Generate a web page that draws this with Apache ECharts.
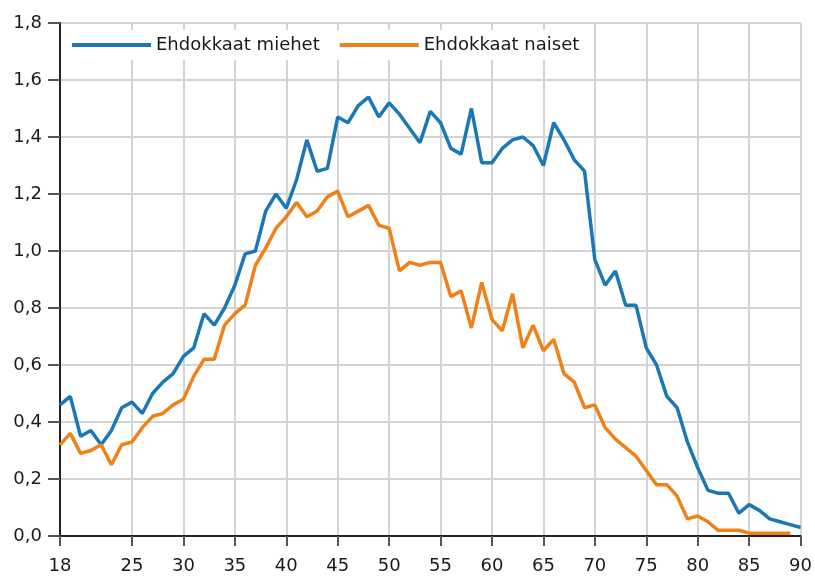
<!DOCTYPE html>
<html>
<head>
<meta charset="utf-8">
<script src="https://cdn.jsdelivr.net/npm/echarts@6/dist/echarts.min.js"></script>
<style>html,body{margin:0;padding:0;background:#fff;}#c{width:815px;height:577px;}</style>
</head>
<body>
<div id="c"></div>
<script>
const ages = [18,19,20,21,22,23,24,25,26,27,28,29,30,31,32,33,34,35,36,37,38,39,40,41,42,43,44,45,46,47,48,49,50,51,52,53,54,55,56,57,58,59,60,61,62,63,64,65,66,67,68,69,70,71,72,73,74,75,76,77,78,79,80,81,82,83,84,85,86,87,88,89,90];
const men = [0.46,0.49,0.35,0.37,0.32,0.37,0.45,0.47,0.43,0.50,0.54,0.57,0.63,0.66,0.78,0.74,0.80,0.88,0.99,1.00,1.14,1.20,1.15,1.25,1.39,1.28,1.29,1.47,1.45,1.51,1.54,1.47,1.52,1.48,1.43,1.38,1.49,1.45,1.36,1.34,1.50,1.31,1.31,1.36,1.39,1.40,1.37,1.30,1.45,1.39,1.32,1.28,0.97,0.88,0.93,0.81,0.81,0.66,0.60,0.49,0.45,0.33,0.24,0.16,0.15,0.15,0.08,0.11,0.09,0.06,0.05,0.04,0.03];
const women = [0.32,0.36,0.29,0.30,0.32,0.25,0.32,0.33,0.38,0.42,0.43,0.46,0.48,0.56,0.62,0.62,0.74,0.78,0.81,0.95,1.01,1.08,1.12,1.17,1.12,1.14,1.19,1.21,1.12,1.14,1.16,1.09,1.08,0.93,0.96,0.95,0.96,0.96,0.84,0.86,0.73,0.89,0.76,0.72,0.85,0.66,0.74,0.65,0.69,0.57,0.54,0.45,0.46,0.38,0.34,0.31,0.28,0.23,0.18,0.18,0.14,0.06,0.07,0.05,0.02,0.02,0.02,0.01,0.01,0.01,0.01,0.01];
const xTicks = [18,25,30,35,40,45,50,55,60,65,70,75,80,85,90];
const seriesNames = ['Ehdokkaat miehet','Ehdokkaat naiset'];
const colors = ['#1b78b4','#ef8119'];

const font = 'DejaVu Sans';
const chart = echarts.init(document.getElementById('c'), null, {renderer:'canvas'});
chart.setOption({
  animation:false,
  backgroundColor:'#fff',
  grid:{left:60,right:12,top:23,bottom:41,containLabel:false},
  legend:{
    left:67, top:30, padding:[6,10,6,5], itemGap:20, itemWidth:79, itemHeight:4,
    icon:'rect',
    backgroundColor:'#fff',
    textStyle:{fontFamily:font,fontSize:18,color:'#1a1a1a'},
    data:seriesNames
  },
  xAxis:{
    type:'value', min:18, max:90,
    axisLine:{lineStyle:{color:'#222',width:2}},
    axisTick:{show:true,length:10,lineStyle:{color:'#555',width:2},customValues:xTicks},
    axisLabel:{fontFamily:font,fontSize:18,color:'#1a1a1a',margin:21,customValues:xTicks},
    splitLine:{show:true,lineStyle:{color:'#d4d4d4',width:2}}
  },
  yAxis:{
    type:'value', min:0, max:1.8, interval:0.2,
    axisLine:{show:true,lineStyle:{color:'#222',width:2}},
    axisTick:{show:true,length:12,lineStyle:{color:'#555',width:2}},
    axisLabel:{fontFamily:font,fontSize:18,color:'#1a1a1a',margin:18,
      formatter:v=>v.toFixed(1).replace('.',',')},
    splitLine:{show:true,lineStyle:{color:'#d4d4d4',width:2}}
  },
  series:[
    {name:seriesNames[0],type:'line',symbol:'none',data:ages.map((a,i)=>[a,men[i]]),
     lineStyle:{color:colors[0],width:3.5},itemStyle:{color:colors[0]}},
    {name:seriesNames[1],type:'line',symbol:'none',data:women.map((v,i)=>[ages[i],v]),
     lineStyle:{color:colors[1],width:3.5},itemStyle:{color:colors[1]}}
  ]
});
</script>
</body>
</html>
